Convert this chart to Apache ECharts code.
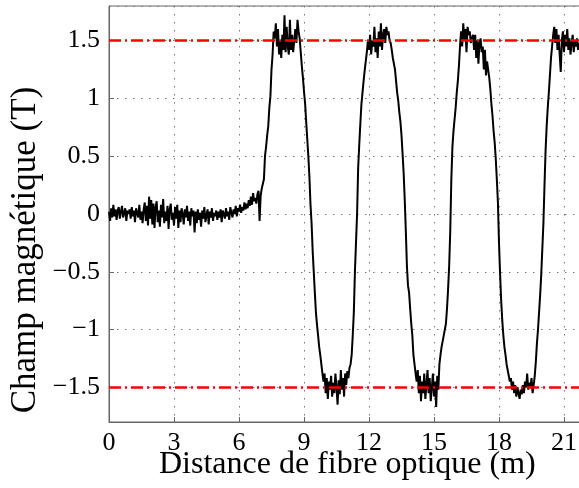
<!DOCTYPE html>
<html>
<head>
<meta charset="utf-8">
<script src="https://cdn.jsdelivr.net/npm/echarts@6/dist/echarts.min.js"></script>
<style>html,body{margin:0;padding:0;background:#fff;overflow:hidden;}#c{width:579px;height:488px;}</style>
</head>
<body>
<div id="c"></div>
<script>
// sampling step of the trace (m)
var step = 0.05;
// segment start distances (m) and field values (T)
var segStarts = [0, 7.0, 7.6, 8.8, 9.9, 11.2, 12.0, 13.15, 14.2, 15.35, 16.25, 17.55, 18.55, 19.65, 20.55];
var baseline = [
 0.02,-0.06,0.05,-0.03,0.08,-0.02,0.04,-0.05,0.03,0.06,-0.04,0.02,0.07,-0.03,0.01,0.05,-0.06,0.03,0.00,0.04,
 -0.04,0.06,-0.02,0.03,-0.07,0.05,0.01,-0.03,0.08,-0.05,0.02,-0.08,0.04,0.10,-0.06,0.07,-0.10,0.15,-0.04,0.12,
 -0.09,0.09,-0.12,0.06,0.11,-0.07,0.03,-0.11,0.08,-0.03,0.13,-0.08,0.02,-0.06,0.07,-0.13,0.04,0.09,-0.05,0.01,
 -0.10,0.06,-0.04,0.08,-0.12,0.03,-0.07,0.05,0.00,-0.09,0.04,-0.03,0.07,-0.06,0.02,-0.10,0.05,-0.02,0.03,-0.16,
 0.02,-0.08,0.04,-0.05,0.01,-0.11,0.03,-0.04,0.06,-0.07,-0.01,0.04,-0.09,0.02,-0.03,0.05,-0.06,0.01,-0.02,0.03,
 -0.05,0.02,-0.03,0.04,-0.07,0.03,0.00,-0.04,0.05,-0.02,0.02,-0.05,0.06,0.01,-0.03,0.04,0.00,0.07,-0.02,0.05,
 0.02,0.08,0.01,0.06,0.03,0.10,0.04,0.09,0.05,0.12,0.07,0.15,0.08,0.18,0.11,0.14,0.09,0.17,0.20,-0.06
];
var rise1 = [0.16,0.22,0.21,0.30,0.50,0.58,0.68,0.76,0.92,1.02,1.25,1.38];
var plateau1 = [1.58,1.52,1.65,1.45,1.60,1.38,1.50,1.35,1.55,1.42,1.72,1.40,1.62,1.45,1.38,1.68,1.42,1.55,1.40,1.50,1.60,1.48,1.68,1.58];
var fall1 = [1.52,1.40,1.28,1.18,1.06,0.96,0.80,0.65,0.50,0.32,0.08,-0.08,-0.32,-0.50,-0.68,-0.85,-0.96,-1.05,-1.15,-1.22,-1.30,-1.38];
var bottom1 = [-1.45,-1.38,-1.55,-1.42,-1.60,-1.45,-1.52,-1.40,-1.58,-1.46,-1.55,-1.38,-1.50,-1.65,-1.44,-1.56,-1.35,-1.52,-1.42,-1.58,-1.38,-1.48,-1.36,-1.42,-1.33,-1.30];
var rise2 = [-1.22,-1.05,-0.85,-0.50,-0.25,0.00,0.40,0.60,0.78,0.95,1.05,1.15,1.24,1.32,1.40,1.50];
var plateau2 = [1.42,1.55,1.38,1.50,1.45,1.62,1.40,1.52,1.35,1.58,1.45,1.65,1.42,1.55,1.60,1.48,1.62,1.55,1.58,1.50,1.48,1.42,1.35];
var fall2 = [1.30,1.25,1.15,1.05,0.98,0.88,0.80,0.68,0.52,0.35,0.12,-0.15,-0.45,-0.62,-0.68,-0.82,-0.95,-1.05,-1.22,-1.30,-1.38];
var bottom2 = [-1.45,-1.35,-1.55,-1.40,-1.62,-1.45,-1.55,-1.38,-1.60,-1.48,-1.35,-1.55,-1.42,-1.62,-1.50,-1.38,-1.58,-1.45,-1.67,-1.40,-1.52,-1.30,-1.22];
var rise3 = [-1.15,-1.10,-1.05,-1.00,-0.95,-0.82,-0.65,-0.45,-0.15,0.30,0.58,0.72,0.82,0.92,1.05,1.15,1.28,1.45];
var plateau3 = [1.58,1.45,1.65,1.50,1.60,1.40,1.62,1.55,1.58,1.48,1.52,1.55,1.42,1.55,1.35,1.50,1.30,1.48,1.52,1.40,1.45,1.25,1.42,1.20,1.32,1.25];
var fall3 = [1.18,1.08,0.95,0.85,0.72,0.62,0.48,0.30,0.10,-0.25,-0.52,-0.75,-0.92,-1.05,-1.15,-1.22,-1.30,-1.35,-1.40,-1.45];
var bottom3 = [-1.42,-1.52,-1.45,-1.55,-1.48,-1.58,-1.50,-1.55,-1.60,-1.52,-1.56,-1.48,-1.55,-1.45,-1.50,-1.38,-1.52,-1.46,-1.50,-1.42,-1.55,-1.48];
var rise4 = [-1.40,-1.28,-1.12,-1.00,-0.85,-0.70,-0.52,-0.30,-0.08,0.25,0.55,0.76,0.92,1.05,1.20,1.35,1.45,1.55];
var plateau4 = [1.62,1.48,1.60,1.42,1.55,1.38,1.23,1.50,1.58,1.40,1.55,1.45,1.60,1.42,1.52,1.38,1.48,1.55,1.40,1.50,1.45,1.52,1.42,1.48,1.45];
var segments = [baseline, rise1, plateau1, fall1, bottom1, rise2, plateau2, fall2, bottom2, rise3, plateau3, fall3, bottom3, rise4, plateau4];
// reference saturation levels (T)
var refLevels = [1.5, -1.5];

var trace = [];
segments.forEach(function (seg, k) {
  seg.forEach(function (v, j) {
    trace.push([+(segStarts[k] + j * step).toFixed(3), v]);
  });
});

var font = 'Liberation Serif';
var chart = echarts.init(document.getElementById('c'), null, {renderer: 'canvas'});
chart.setOption({
  animation: false,
  backgroundColor: '#fff',
  grid: {left: 109, top: 6, right: -6.67, bottom: 66, show: true, borderColor: '#666', borderWidth: 1,
    containLabel: false, outerBoundsMode: 'none'},
  xAxis: {
    type: 'value', min: 0, max: 22, interval: 3,
    name: 'Distance de fibre optique (m)', nameLocation: 'middle', nameGap: 27, nameMoveOverlap: false,
    nameTextStyle: {fontFamily: font, fontSize: 32, color: '#000'},
    axisLine: {show: true, onZero: false, lineStyle: {color: '#666', width: 1}},
    axisTick: {show: true, inside: true, length: 5, lineStyle: {color: '#666'}},
    axisLabel: {fontFamily: font, fontSize: 26, color: '#000', margin: 8, showMaxLabel: false},
    splitLine: {show: true, lineStyle: {color: '#777', width: 1, type: [1.5, 6.5]}}
  },
  yAxis: {
    type: 'value', min: -1.8, max: 1.8, splitNumber: 7,
    name: 'Champ magnétique (T)', nameLocation: 'middle', nameRotate: 90, nameGap: 66, nameMoveOverlap: false,
    nameTextStyle: {fontFamily: font, fontSize: 35, color: '#000', padding: [0, 72, 0, 0]},
    axisLine: {show: true, onZero: false, lineStyle: {color: '#666', width: 1}},
    axisTick: {show: true, inside: true, length: 5, lineStyle: {color: '#666'}},
    axisLabel: {fontFamily: font, fontSize: 26, color: '#000', margin: 9, showMinLabel: false, showMaxLabel: false,
      formatter: function (v) { return String(v).replace('-', '\u2212'); }},
    splitLine: {show: true, lineStyle: {color: '#777', width: 1, type: [1.5, 6.5]}}
  },
  series: [{
    type: 'line', data: trace, showSymbol: false, symbol: 'none',
    lineStyle: {color: '#000', width: 2}, z: 3,
    markLine: {
      silent: true, symbol: 'none', label: {show: false}, z: 4,
      lineStyle: {color: '#ff0000', width: 2.5, type: [12, 4, 2, 4]},
      data: refLevels.map(function (v) { return {yAxis: v}; })
    }
  }]
});
</script>
</body>
</html>
